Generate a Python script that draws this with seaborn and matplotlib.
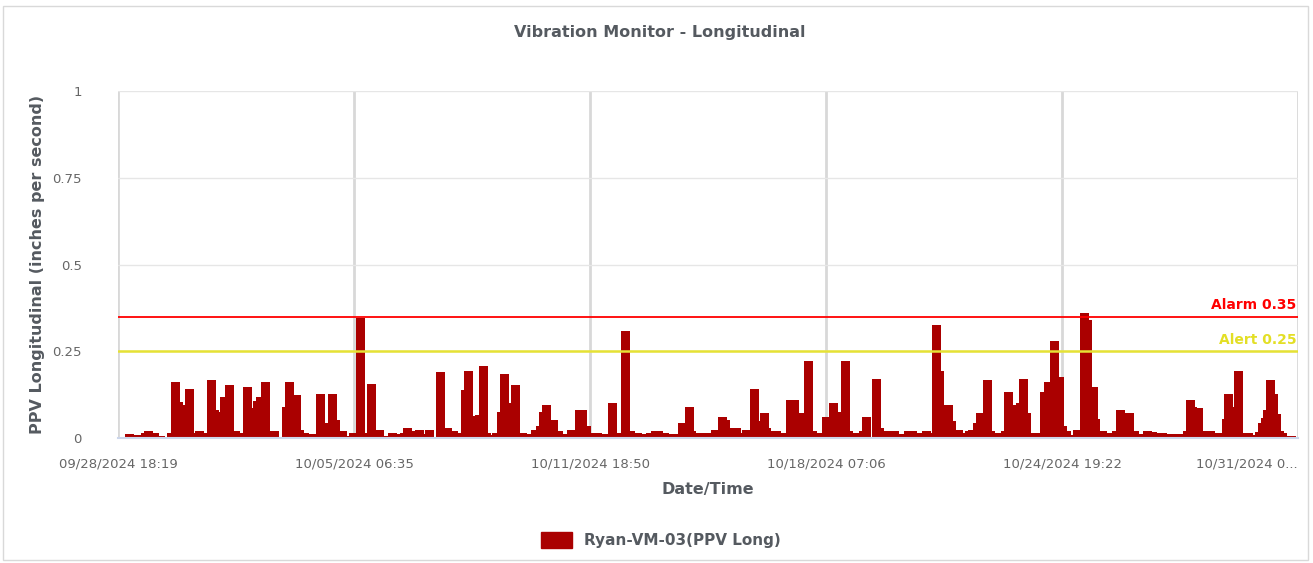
#!/usr/bin/env python3
"""
Vibration monitor chart - longitudinal PPV readings for Ryan-VM-03
"""
import numpy as np
import pandas as pd
import matplotlib
matplotlib.use("Agg")
import matplotlib.pyplot as plt
import matplotlib.dates as mdates
from matplotlib.patches import Patch, Rectangle
import seaborn as sns

# first reading of the period
START = pd.Timestamp("2024-09-28 18:19")

# hours after START for each reading
hours = [
    4.6, 10.8, 15.2, 17.4, 23.0, 27.3, 31.1, 32.6, 35.1, 41.1, 42.8, 44.4, 50.3, 51.0,
    56.9, 58.9, 64.9, 66.7, 67.7, 70.9, 76.8, 80.8, 82.8, 88.7, 89.4, 91.4, 94.7,
    100.4, 108.6, 110.6, 116.5, 121.2, 123.2, 126.5, 131.1, 137.1, 139.1, 145.0, 147.0,
    151.6, 153.0, 157.6, 163.6, 164.9, 170.8, 176.1, 178.8, 184.7, 186.7, 188.7, 194.7,
    196.7, 202.6, 203.3, 210.6, 216.5, 221.2, 225.1, 227.1, 229.1, 235.1, 236.4, 239.0,
    245.0, 247.0, 247.6, 251.0, 252.9, 258.9, 260.2, 266.2, 270.8, 273.5, 276.8, 278.8,
    280.8, 286.7, 291.3,
    294.7, 297.3, 302.6, 306.6, 310.5, 313.2, 317.2, 320.5, 324.5, 330.4, 333.1, 339.0,
    342.3, 347.0, 349.6, 352.9, 356.9, 360.9, 364.8, 370.8, 375.4, 381.4, 382.7, 386.7,
    392.7, 397.3, 403.3, 405.2, 409.2, 412.5, 413.2, 418.5, 424.4, 425.1, 431.1, 432.4,
    435.7, 439.0, 442.3, 446.3, 450.9, 454.2, 460.2, 462.8, 466.2, 470.8, 476.7, 478.7,
    484.7, 486.7,
    490.6, 492.6, 499.3, 505.2, 507.2, 513.2, 517.1, 520.5, 525.1, 529.1, 532.4, 538.3,
    539.0, 544.9, 546.9, 552.9, 554.9, 559.5, 560.8, 562.8, 566.1, 568.1, 572.8, 578.7,
    580.7, 584.7, 586.7,
    592.6, 594.6, 596.6, 602.6, 604.5, 610.5, 613.1, 617.1, 623.1, 626.4, 628.4, 631.0,
    632.4, 637.0, 642.9, 644.9, 648.9, 650.2, 654.9, 658.2, 660.8, 666.8, 672.7, 676.1,
    678.7, 684.7,
    688.0, 690.6, 694.6, 699.9, 705.2, 707.2, 713.1, 714.5, 718.4, 722.4, 726.4, 731.0,
    732.3, 738.3, 739.0, 744.9, 746.9, 751.5, 752.9, 754.9, 756.8, 758.2, 760.1, 766.1,
    768.1, 770.1, 772.1, 774.1,
]

# peak particle velocity, inches per second
ppv = [
    0.012, 0.010, 0.015, 0.020, 0.015, 0.007, 0.003, 0.015, 0.161, 0.104, 0.096, 0.141, 0.015, 0.020,
    0.015, 0.167, 0.080, 0.075, 0.118, 0.153, 0.020, 0.015, 0.147, 0.086, 0.108, 0.118, 0.161,
    0.020, 0.089, 0.161, 0.124, 0.022, 0.015, 0.012, 0.127, 0.043, 0.127, 0.052, 0.020,
    0.007, 0.015, 0.346, 0.015, 0.156, 0.022, 0.007, 0.015, 0.012, 0.015, 0.029, 0.020,
    0.022, 0.012, 0.022, 0.190, 0.029, 0.020, 0.015, 0.138, 0.193, 0.064, 0.067, 0.207,
    0.015, 0.010, 0.015, 0.075, 0.185, 0.101, 0.153, 0.015, 0.012, 0.022, 0.035, 0.075,
    0.095, 0.052, 0.020,
    0.012, 0.022, 0.080, 0.080, 0.035, 0.015, 0.015, 0.012, 0.101, 0.015, 0.308, 0.020,
    0.015, 0.012, 0.015, 0.020, 0.020, 0.015, 0.012, 0.043, 0.089, 0.020, 0.015, 0.015,
    0.022, 0.061, 0.052, 0.029, 0.029, 0.015, 0.022, 0.141, 0.049, 0.072, 0.029, 0.020,
    0.020, 0.015, 0.110, 0.110, 0.072, 0.222, 0.020, 0.015, 0.061, 0.101, 0.075, 0.222,
    0.020, 0.015,
    0.020, 0.061, 0.170, 0.029, 0.020, 0.020, 0.012, 0.020, 0.020, 0.015, 0.020, 0.015,
    0.326, 0.193, 0.095, 0.049, 0.022, 0.015, 0.020, 0.022, 0.043, 0.072, 0.167, 0.020,
    0.015, 0.020, 0.133,
    0.095, 0.101, 0.170, 0.072, 0.015, 0.133, 0.161, 0.280, 0.176, 0.035, 0.020, 0.010,
    0.022, 0.360, 0.340, 0.147, 0.055, 0.020, 0.015, 0.020, 0.080, 0.072, 0.020, 0.012,
    0.020, 0.018,
    0.015, 0.015, 0.012, 0.012, 0.020, 0.110, 0.089, 0.086, 0.020, 0.020, 0.015, 0.055,
    0.127, 0.089, 0.193, 0.015, 0.015, 0.010, 0.018, 0.043, 0.058, 0.080, 0.167, 0.127,
    0.070, 0.020, 0.015, 0.007,
]

# thresholds
ALARM = 0.35
ALERT = 0.25

# x axis split into equal steps
TICK_STEP = pd.Timedelta(days=6, hours=12, minutes=15, seconds=42)
N_TICKS = 6

y_ticks = [0, 0.25, 0.5, 0.75, 1]
y_tick_labels = ["0", "0.25", "0.5", "0.75", "1"]

BAR_COLOR = "#aa0000"
TEXT_DARK = "#555a60"
TEXT_TICK = "#666666"

sns.set_theme(style="white")
plt.rcParams["font.family"] = ["DejaVu Sans"]

df = pd.DataFrame({"time": START + pd.to_timedelta(hours, unit="h"), "ppv": ppv})

fig = plt.figure(figsize=(13.13, 5.63), dpi=100)
ax = fig.add_axes([118 / 1313, 1 - 438 / 563, 1180 / 1313, 347 / 563])

# card border around the whole chart
fig.patches.append(Rectangle((3 / 1313, 3 / 563), 1305 / 1313, 554 / 563,
                             transform=fig.transFigure, fill=False,
                             edgecolor="#d9d9d9", linewidth=1))

# column widths: time to next reading, capped at 6 hours
x = mdates.date2num(df["time"])
gaps = np.diff(x)
widths = np.minimum(np.append(gaps, 0.25), 0.25)
ax.bar(x, df["ppv"], width=widths, align="edge", color=BAR_COLOR,
       linewidth=0, zorder=3)

# threshold lines with their labels
ax.axhline(ALARM, color="#ff0000", linewidth=1.3, zorder=4)
ax.axhline(ALERT, color="#e6e234", linewidth=1.8, zorder=4)
ax.annotate(f"Alarm {ALARM}", xy=(1, ALARM), xycoords=("axes fraction", "data"),
            xytext=(-1, 3), textcoords="offset points", ha="right", va="bottom",
            color="#ff0000", fontsize=10, fontweight="bold")
ax.annotate(f"Alert {ALERT}", xy=(1, ALERT), xycoords=("axes fraction", "data"),
            xytext=(-1, 3), textcoords="offset points", ha="right", va="bottom",
            color="#e3df25", fontsize=10, fontweight="bold")

# axes limits and ticks
tick_times = [START + k * TICK_STEP for k in range(N_TICKS)]
tick_pos = mdates.date2num(tick_times)
ax.set_xlim(tick_pos[0], tick_pos[-1])
ax.set_ylim(0, 1)
tick_labels = [t.round("min").strftime("%m/%d/%Y %H:%M") for t in tick_times]
tick_labels[-1] = tick_labels[-1][:12] + "..."
ax.set_xticks(tick_pos)
ax.set_xticklabels(tick_labels)
ax.set_yticks(y_ticks)
ax.set_yticklabels(y_tick_labels)
ax.get_xticklabels()[-1].set_horizontalalignment("right")

ax.tick_params(axis="x", length=10, width=1, color="#ccd6eb", pad=4,
               labelsize=9.5, labelcolor=TEXT_TICK)
ax.tick_params(axis="y", length=0, pad=26, labelsize=9.5, labelcolor=TEXT_TICK)
for lab in ax.get_yticklabels():
    lab.set_horizontalalignment("right")

# grid: light horizontal lines, heavier vertical lines at the ticks
ax.grid(axis="y", color="#e6e6e6", linewidth=1, zorder=0)
ax.grid(axis="x", color="#d8d8d8", linewidth=2, zorder=0)
for side in ["top", "right", "left"]:
    ax.spines[side].set_visible(False)
ax.spines["bottom"].set_color("#ccd6eb")
ax.spines["bottom"].set_linewidth(1.5)
ax.spines["bottom"].set_zorder(5)

ax.set_xlabel("Date/Time", fontsize=11.5, fontweight="bold", color=TEXT_DARK)
ax.xaxis.set_label_coords(0.5, -0.128)
ax.set_ylabel("PPV Longitudinal (inches per second)", fontsize=11.5,
              fontweight="bold", color=TEXT_DARK)
ax.yaxis.set_label_coords(-0.062, 0.5)

fig.text(660 / 1313, 1 - 32 / 563, "Vibration Monitor - Longitudinal",
         ha="center", va="center", fontsize=11.5, fontweight="bold", color=TEXT_DARK)

handle = Patch(facecolor=BAR_COLOR, edgecolor=BAR_COLOR, label="Ryan-VM-03(PPV Long)")
leg = fig.legend(handles=[handle], loc="center", bbox_to_anchor=(661 / 1313, 1 - 540 / 563),
                 frameon=False, handlelength=2.0, handleheight=1.2,
                 prop={"size": 11, "weight": "bold"})
for t in leg.get_texts():
    t.set_color(TEXT_DARK)

fig.savefig("out.png", dpi=100)
plt.close(fig)
